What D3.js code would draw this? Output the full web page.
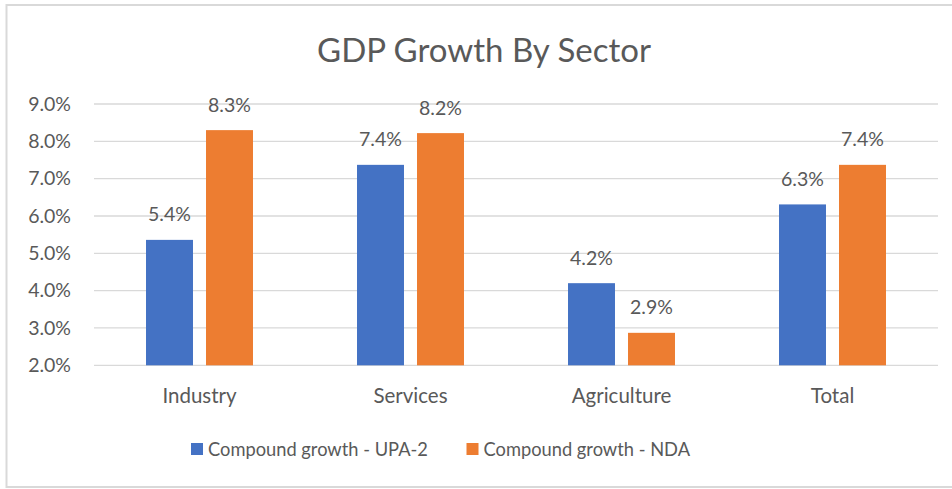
<!DOCTYPE html>
<html>
<head>
<meta charset="utf-8">
<script src="https://cdn.jsdelivr.net/npm/d3@7"></script>
<style>
  html, body { margin: 0; padding: 0; background: #fff; }
  svg { display: block; }
  text { font-family: Lato, "Open Sans", sans-serif; fill: #595959; }
</style>
</head>
<body>
<svg id="chart" width="952" height="489"></svg>
<script>
// Sector growth figures (percent)
const categories = ["Industry", "Services", "Agriculture", "Total"];
const seriesNames = ["Compound growth - UPA-2", "Compound growth - NDA"];
const upa2 = [5.36, 7.37, 4.20, 6.31];
const nda = [8.30, 8.22, 2.87, 7.37];
const yTicks = [2, 3, 4, 5, 6, 7, 8, 9];
const colors = ["#4472C4", "#ED7D31"];

const svg = d3.select("#chart");

// outer frame
svg.append("rect")
  .attr("x", 6.5).attr("y", 5)
  .attr("width", 960).attr("height", 482)
  .attr("fill", "none").attr("stroke", "#d9d9d9").attr("stroke-width", 2);

const plot = { left: 94, right: 938, top: 104, bottom: 365.3 };

const y = d3.scaleLinear().domain([2, 9]).range([plot.bottom, plot.top]);
const x0 = d3.scaleBand().domain(categories)
  .range([plot.left, plot.right]).paddingInner(0.493).paddingOuter(0.2465);
const x1 = d3.scaleBand().domain(seriesNames)
  .range([0, x0.bandwidth()]).paddingInner(0.217).paddingOuter(0);

// title
svg.append("text")
  .attr("x", 484).attr("y", 61.5)
  .attr("text-anchor", "middle")
  .style("font-size", "33px")
  .text("GDP Growth By Sector");

// gridlines
svg.append("g")
  .selectAll("line").data(yTicks).join("line")
  .attr("x1", plot.left).attr("x2", plot.right)
  .attr("y1", d => y(d)).attr("y2", d => y(d))
  .attr("stroke", "#d9d9d9").attr("stroke-width", 1.3);

// y axis labels
const yAxis = d3.axisLeft(y).tickValues(yTicks)
  .tickFormat(d => d3.format(".1f")(d) + "%").tickSize(0).tickPadding(0);
const gy = svg.append("g").attr("transform", "translate(71,0)").call(yAxis);
gy.select(".domain").remove();
gy.selectAll("text").style("font-size", "19.5px").attr("fill", "#595959")
  .style("font-family", "Lato, 'Open Sans', sans-serif");

// x axis labels
const xAxis = d3.axisBottom(x0).tickSize(0).tickPadding(0);
const gx = svg.append("g").attr("transform", "translate(0,388.5)").call(xAxis);
gx.select(".domain").remove();
gx.selectAll("text").style("font-size", "20.5px").attr("fill", "#595959")
  .style("font-family", "Lato, 'Open Sans', sans-serif");

// bars
const rows = categories.map((c, i) => ({ cat: c, vals: [upa2[i], nda[i]] }));
const groups = svg.append("g").selectAll("g").data(rows).join("g")
  .attr("transform", d => `translate(${x0(d.cat)},0)`);

groups.selectAll("rect")
  .data(d => d.vals.map((v, j) => ({ name: seriesNames[j], v, j })))
  .join("rect")
  .attr("x", d => x1(d.name))
  .attr("y", d => y(d.v))
  .attr("width", x1.bandwidth())
  .attr("height", d => y(2) - y(d.v))
  .attr("fill", d => colors[d.j]);

groups.selectAll("text.lbl")
  .data(d => d.vals.map((v, j) => ({ name: seriesNames[j], v, j })))
  .join("text").attr("class", "lbl")
  .attr("x", d => x1(d.name) + x1.bandwidth() / 2)
  .attr("y", d => y(d.v) - 18.5)
  .attr("text-anchor", "middle")
  .style("font-size", "19.5px")
  .text(d => d3.format(".1f")(d.v) + "%");

// legend
const legendX = [191, 466.5];
const lg = svg.append("g").selectAll("g").data(seriesNames).join("g")
  .attr("transform", (d, i) => `translate(${legendX[i]},0)`);
lg.append("rect").attr("x", 0).attr("y", 443).attr("width", 12).attr("height", 12)
  .attr("fill", (d, i) => colors[i]);
lg.append("text").attr("x", 17).attr("y", 455.5)
  .style("font-size", "18.3px").text(d => d);
</script>
</body>
</html>
